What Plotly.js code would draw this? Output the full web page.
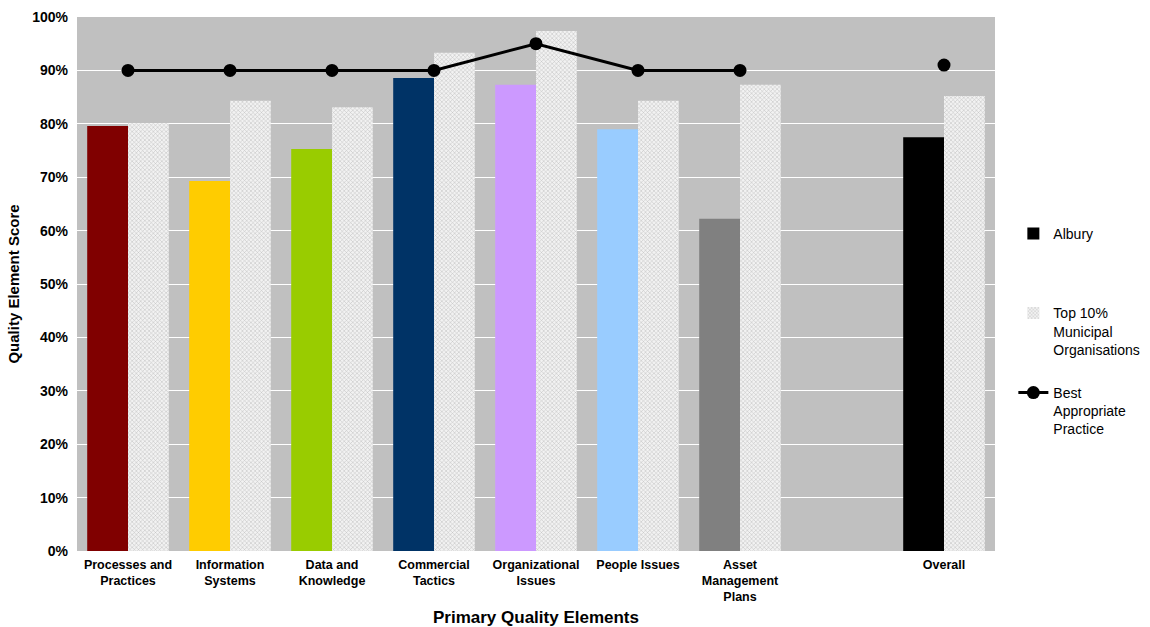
<!DOCTYPE html>
<html>
<head>
<meta charset="utf-8">
<script src="https://cdn.plot.ly/plotly-3.0.1.min.js"></script>
<style>html,body{margin:0;padding:0;background:#fff;}#chart{width:1150px;height:627px;}</style>
</head>
<body>
<div id="chart"></div>
<script>
const categories = ["Processes and<br>Practices", "Information<br>Systems", "Data and<br>Knowledge", "Commercial<br>Tactics", "Organizational<br>Issues", "People Issues", "Asset<br>Management<br>Plans", " ", "Overall"];
const alburyValues = [0.796, 0.693, 0.753, 0.886, 0.873, 0.790, 0.622, null, 0.775];
const top10Values = [0.801, 0.843, 0.831, 0.933, 0.974, 0.843, 0.873, null, 0.852];
const bestPractice = [0.90, 0.90, 0.90, 0.90, 0.95, 0.90, 0.90, null, 0.91];
const alburyColors = ["#800000", "#FFCC00", "#99CC00", "#003366", "#CC99FF", "#99CCFF", "#808080", "#000000", "#000000"];
const yTicks = [0, 0.1, 0.2, 0.3, 0.4, 0.5, 0.6, 0.7, 0.8, 0.9, 1.0];

const font = "Liberation Sans, Arial, sans-serif";

const traces = [
  {
    type: "bar", x: [null], y: [null], name: "Albury<br> <br> ",
    marker: {color: "#000000"}, legendgroup: "a", showlegend: true, hoverinfo: "skip"
  },
  {
    type: "bar", x: categories, y: alburyValues, name: "Albury",
    marker: {color: alburyColors, line: {width: 0}},
    width: 0.4, offset: -0.4, showlegend: false
  },
  {
    type: "bar", x: categories, y: top10Values, name: "Top 10%<br>Municipal<br>Organisations",
    marker: {color: "#f2f2f2", line: {width: 0},
      pattern: {shape: "x", size: 3, solidity: 0.3, fgcolor: "#bdbdbd", bgcolor: "#f2f2f2", fillmode: "replace"}},
    width: 0.4, offset: 0, legendgroup: "b"
  },
  {
    type: "scatter", mode: "lines+markers", x: categories, y: bestPractice,
    name: "Best<br>Appropriate<br>Practice", connectgaps: false,
    line: {color: "#000000", width: 3}, marker: {color: "#000000", size: 13},
    legendgroup: "c"
  }
];

const layout = {
  width: 1150, height: 627,
  margin: {l: 77, r: 155, t: 17, b: 76, autoexpand: false},
  paper_bgcolor: "#ffffff", plot_bgcolor: "#c0c0c0",
  barmode: "overlay",
  font: {family: font, color: "#000000"},
  xaxis: {
    type: "category", categoryorder: "array", categoryarray: categories,
    range: [-0.5, 8.5], autorange: false,
    tickfont: {family: font, size: 12.5, weight: "bold"},
    ticks: "", showgrid: false, showline: false, zeroline: false,
    title: {text: "Primary Quality Elements", font: {family: font, size: 17, weight: "bold"}, standoff: 12},
    ticklabelstandoff: 4
  },
  yaxis: {
    range: [0, 1], tickvals: yTicks, tickformat: ".0%",
    tickfont: {family: font, size: 14, weight: "bold"},
    gridcolor: "#ffffff", gridwidth: 1, zeroline: false, showline: false, ticks: "",
    ticklabelstandoff: 8,
    title: {text: "Quality Element Score", font: {family: font, size: 15, weight: "bold"}, standoff: 8}
  },
  legend: {
    x: 1.02, xanchor: "left", y: 0.624, yanchor: "top",
    font: {family: font, size: 14}, valign: "top",
    tracegroupgap: 22, bgcolor: "rgba(0,0,0,0)", itemwidth: 30
  },
  showlegend: true
};

Plotly.newPlot("chart", traces, layout, {displayModeBar: false, staticPlot: true});
</script>
</body>
</html>
